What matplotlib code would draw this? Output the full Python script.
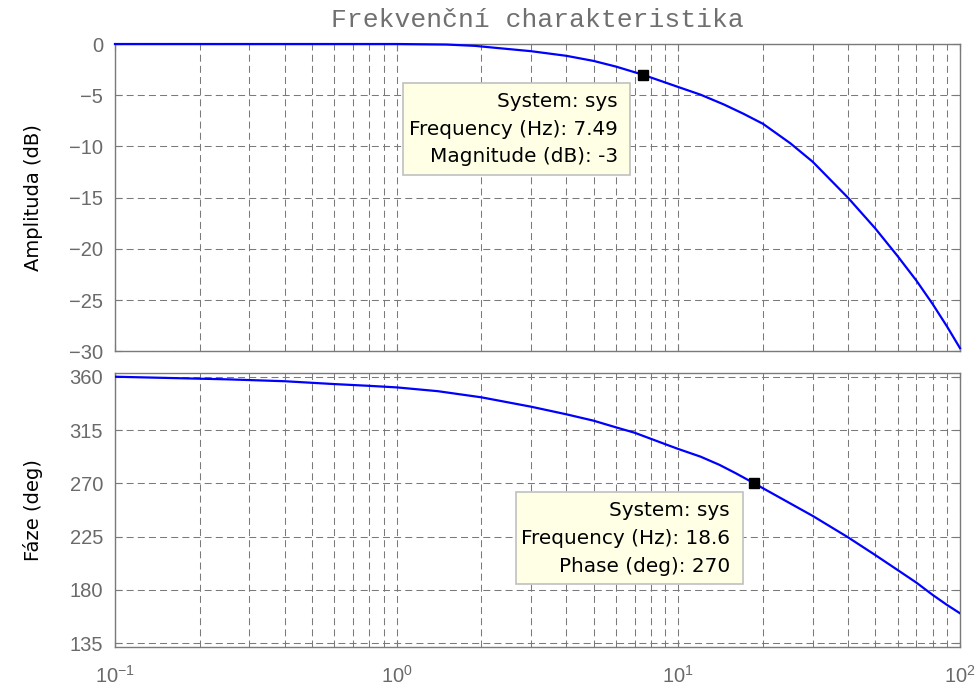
import matplotlib
matplotlib.use('Agg')
import matplotlib.pyplot as plt
from matplotlib.patches import Rectangle
from matplotlib.ticker import LogLocator, FixedLocator

# odectene hodnoty z grafu
freq_mag = [0.1, 0.5, 1, 1.5, 1.9, 2.2, 3, 4, 5, 6, 7.49, 10, 12, 14.5, 17, 20,
            25, 30, 40, 50, 60, 70, 80, 90, 100]
mag_db = [0, 0, 0, -0.05, -0.18, -0.35, -0.7, -1.15, -1.65, -2.2, -3, -4.2, -4.95,
          -5.9, -6.8, -7.8, -9.7, -11.5, -15.0, -18.0, -20.7, -23.1, -25.4,
          -27.6, -29.7]

freq_ph = [0.1, 0.25, 0.4, 0.6, 0.8, 1, 1.4, 2, 3, 4, 5, 6, 7, 9, 10, 12, 14, 16,
           18.6, 20, 30, 40, 50, 60, 70, 80, 90, 100]
phase_deg = [360, 357.8, 356.2, 353.8, 352.3, 351, 347.8, 342.6, 334.7, 328.3,
             322.9, 317.3, 312.7, 303, 299, 292.5, 285.6, 278.5, 270, 265.8, 242.5,
             224.5, 209.5, 196.9, 186.2, 175.8, 167.3, 160.3]

# datatipy
tip1_f, tip1_val = 7.49, -3
tip2_f, tip2_val = 18.6, 270
tip1_lines = ['System: sys', 'Frequency (Hz): 7.49', 'Magnitude (dB): -3']
tip2_lines = ['System: sys', 'Frequency (Hz): 18.6', 'Phase (deg): 270']

mag_ticks = [0, -5, -10, -15, -20, -25, -30]
phase_ticks = [135, 180, 225, 270, 315, 360]

gray = '#7a7a7a'
tick_gray = '#6a6a6a'
grid_ls = (0, (6.7, 4.0))

fig = plt.figure(figsize=(9.76, 6.9), dpi=100)
ax1 = fig.add_axes([0.1178, 0.4910, 0.8658, 0.4452])
ax2 = fig.add_axes([0.1178, 0.0619, 0.8658, 0.3971])


def style_axes(ax):
    ax.set_xscale('log')
    ax.set_xlim(0.1, 100)
    ax.xaxis.set_major_locator(LogLocator(base=10))
    ax.xaxis.set_minor_locator(LogLocator(base=10, subs=range(2, 10)))
    ax.grid(True, which='major', color=gray, linestyle=grid_ls, linewidth=0.75)
    ax.grid(True, which='minor', axis='x', color=gray, linestyle=grid_ls, linewidth=0.75)
    ax.tick_params(which='both', direction='in', top=True, right=True, color=gray,
                   labelcolor=tick_gray, labelsize=14.5)
    ax.tick_params(which='major', length=5)
    ax.tick_params(which='minor', length=3)
    ax.tick_params(axis='y', pad=8.5)
    for s in ax.spines.values():
        s.set_color(gray)
        s.set_linewidth(1.0)
    for lab in ax.get_yticklabels():
        lab.set_fontfamily('Liberation Sans')


# amplituda
ax1.plot(freq_mag, mag_db, color='#0000ff', linewidth=1.6, clip_on=False, zorder=3)
ax1.set_ylim(-30, 0)
ax1.yaxis.set_major_locator(FixedLocator(mag_ticks))
style_axes(ax1)
ax1.tick_params(axis='x', labelbottom=False)
ax1.set_ylabel('Amplituda (dB)', fontsize=14, family='DejaVu Sans', labelpad=19)
ax1.plot([tip1_f], [tip1_val], 's', color='black', markersize=7, zorder=5)
ax1.set_title('Frekvenční charakteristika', family='Liberation Mono', fontsize=19,
              color='#707070', pad=12)

# faze
ax2.plot(freq_ph, phase_deg, color='#0000ff', linewidth=1.6, zorder=3)
ax2.set_ylim(131.6, 362.9)
ax2.yaxis.set_major_locator(FixedLocator(phase_ticks))
style_axes(ax2)
ax2.set_ylabel('Fáze (deg)', fontsize=14, family='DejaVu Sans', labelpad=19)
ax2.plot([tip2_f], [tip2_val], 's', color='black', markersize=7, zorder=5)
for lab in ax2.get_xticklabels():
    lab.set_fontfamily('Liberation Sans')
ax2.tick_params(axis='x', pad=13)


def datatip(ax, box, text_x, text_ys, lines):
    x0, y0, x1, y1 = box
    ax.add_patch(Rectangle((x0, y0), x1 - x0, y1 - y0, transform=ax.transAxes,
                           facecolor='#ffffe6', edgecolor='#c0c0c0', linewidth=1.2,
                           zorder=6, clip_on=False))
    for ty, t in zip(text_ys, lines):
        ax.text(text_x, ty, t, transform=ax.transAxes, ha='right', va='center',
                fontsize=14.4, family='DejaVu Sans', color='black', zorder=7)


datatip(ax1, (0.3408, 0.5743, 0.6095, 0.8742), 0.5953, [0.8125, 0.7205, 0.6337], tip1_lines)
datatip(ax2, (0.4746, 0.2310, 0.7432, 0.5668), 0.7278, [0.4985, 0.3953, 0.2942], tip2_lines)

fig.savefig('out.png', dpi=100, facecolor='white')
